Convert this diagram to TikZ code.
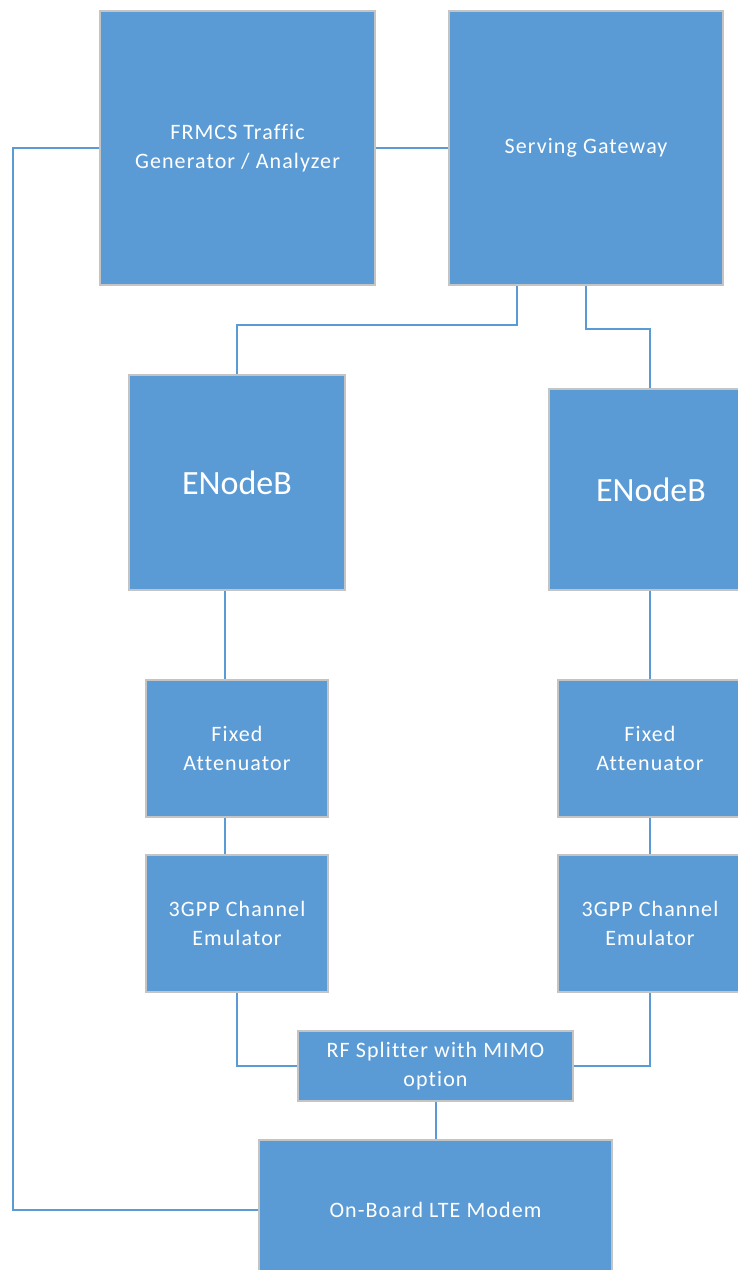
\documentclass[tikz,border=0pt]{standalone}
\usepackage{fontspec}
\setmainfont{Carlito}
\newfontfamily\spacedfont{Carlito}[LetterSpace=5,Ligatures=NoCommon]
\usetikzlibrary{calc}
\definecolor{boxblue}{HTML}{5B9BD5}
\definecolor{boxrim}{HTML}{C4C4C4}
\tikzset{
  unit/.style={draw=boxrim, fill=boxblue, line width=2pt, text=white,
    align=center, inner sep=0pt, font=\spacedfont\fontsize{22}{29}\selectfont},
  bigunit/.style={unit, font=\normalfont\fontsize{34}{40}\selectfont},
  link/.style={draw=boxblue, line width=2pt}
}
\begin{document}
\begin{tikzpicture}[x=1pt,y=-1pt]
  \useasboundingbox (0,0) rectangle (738,1270);
  \clip (0,0) rectangle (738,1270);
  % top row
  \node[unit, minimum width=275pt, minimum height=274pt] (frmcs) at (237.5,148)
    {FRMCS Traffic\\Generator / Analyzer};
  \node[unit, minimum width=274pt, minimum height=274pt] (sgw) at (586,148)
    {Serving Gateway};
  % two radio chains
  \node[bigunit, minimum width=216pt, minimum height=215pt] (enbL) at (237,482.5) {ENodeB};
  \node[bigunit, minimum width=204pt, minimum height=201pt] (enbR) at (651,489.5) {ENodeB};
  \node[unit, minimum width=182pt, minimum height=137pt] (faL) at (237,748.5) {Fixed\\Attenuator};
  \node[unit, minimum width=184pt, minimum height=137pt] (faR) at (650,748.5) {Fixed\\Attenuator};
  \node[unit, minimum width=182pt, minimum height=137pt] (gpL) at (237,923.5) {3GPP Channel\\Emulator};
  \node[unit, minimum width=184pt, minimum height=137pt] (gpR) at (650,923.5) {3GPP Channel\\Emulator};
  % bottom
  \node[unit, minimum width=275pt, minimum height=70pt] (rf) at (435.5,1066)
    {RF Splitter with MIMO\\option};
  \node[unit, minimum width=353pt, minimum height=140pt] (modem) at (435.5,1210)
    {On-Board LTE Modem};
  \coordinate (rail) at (13,0);

  \draw[link] (frmcs.west) -- (frmcs.west -| rail) |- (modem.west);
  \draw[link] (frmcs.east) -- (sgw.west);
  \draw[link] ($(sgw.south)+(-69,0)$) -- ++(0,39) -| (enbL.north);
  \draw[link] (sgw.south) -- ++(0,43) -| (enbR.north -| faR.north);
  \draw[link] ($(enbL.south)+(-12,0)$) -- ($(faL.north)+(-12,0)$);
  \draw[link] ($(faL.south)+(-12,0)$) -- ($(gpL.north)+(-12,0)$);
  \draw[link] (enbR.south -| faR.north) -- (faR.north);
  \draw[link] (faR.south) -- (gpR.north);
  \draw[link] (gpL.south) |- (rf.west);
  \draw[link] (gpR.south) |- (rf.east);
  \draw[link] (rf.south) -- (modem.north);
\end{tikzpicture}
\end{document}
